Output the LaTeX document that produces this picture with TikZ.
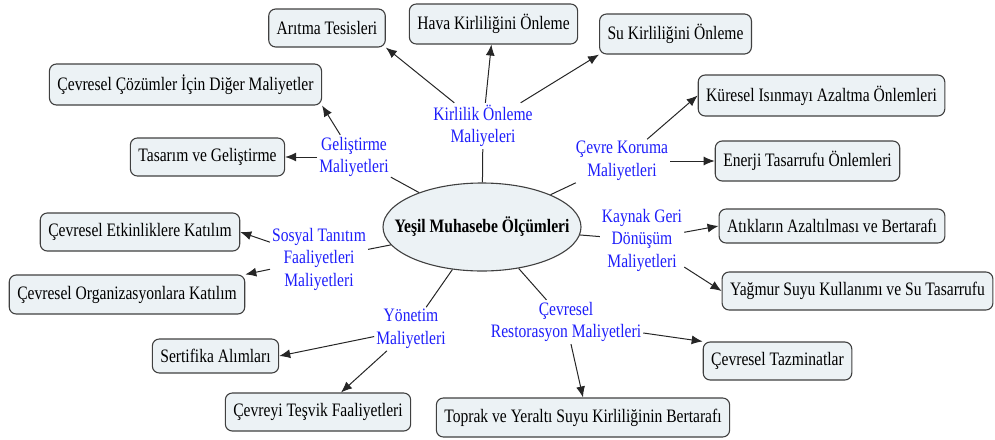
\documentclass[tikz,border=0pt]{standalone}
\usepackage{fontspec}
\setmainfont{Liberation Serif}[FakeStretch=0.82]
\usepackage{xcolor}
\usetikzlibrary{arrows.meta,shapes.geometric}
\definecolor{kutudolgu}{RGB}{236,242,245}
\definecolor{kutucizgi}{RGB}{64,64,64}
\definecolor{etiketmavi}{RGB}{30,30,250}
\newcommand{\yazi}{\fontsize{19}{22.5}\selectfont}

\begin{document}
\begin{tikzpicture}[x=1pt,y=-1pt,line join=round,>={Latex[length=11pt,width=9pt]},
        kutu/.style={draw=kutucizgi,line width=1.1pt,fill=kutudolgu,rounded corners=7pt,
                     inner xsep=8pt,minimum height=38pt,font=\yazi},
        etiket/.style={text=etiketmavi,align=center,inner sep=2pt,font=\yazi},
        hat/.style={draw=black!85,line width=1pt},
        ok/.style={hat,->}]
                \useasboundingbox (0,0) rectangle (995,439);
                \node[ellipse,draw=kutucizgi,line width=1.1pt,fill=kutudolgu,
                      minimum width=198pt,minimum height=88pt,inner xsep=-20pt,inner ysep=0pt,font=\yazi\bfseries]
                      (merkez) at (482,227) {Yeşil Muhasebe Ölçümleri};
                \node[kutu] (aritma)    at (327,28)    {Arıtma Tesisleri};
                \node[kutu,minimum height=40pt] (hava) at (493.5,24) {Hava Kirliliğini Önleme};
                \node[kutu,minimum height=40pt] (su)   at (675.5,34) {Su Kirliliğini Önleme};
                \node[kutu,minimum height=41pt] (cozum) at (185.5,84.5) {Çevresel Çözümler İçin Diğer Maliyetler};
                \node[kutu] (tasarim)   at (207.5,157) {Tasarım ve Geliştirme};
                \node[kutu,minimum height=41pt] (kuresel) at (821.5,95.5) {Küresel Isınmayı Azaltma Önlemleri};
                \node[kutu,minimum height=40pt] (enerji)  at (807.5,161) {Enerji Tasarrufu Önlemleri};
                \node[kutu] (etkinlik)  at (140,232)   {Çevresel Etkinliklere Katılım};
                \node[kutu,minimum height=39pt] (organ) at (127,294.5) {Çevresel Organizasyonlara Katılım};
                \node[kutu,minimum height=34pt] (sertifika) at (215.5,356) {Sertifika Alımları};
                \node[kutu] (tesvik)    at (318,412)   {Çevreyi Teşvik Faaliyetleri};
                \node[kutu,minimum height=39pt] (toprak) at (583,417.5) {Toprak ve Yeraltı Suyu Kirliliğinin Bertarafı};
                \node[kutu,minimum height=34pt] (atik) at (832,226) {Atıkların Azaltılması ve Bertarafı};
                \node[kutu] (yagmur)    at (857.5,291) {Yağmur Suyu Kullanımı ve Su Tasarrufu};
                \node[kutu] (tazminat)  at (777.5,361) {Çevresel Tazminatlar};
                \node[etiket] (kirlilik)   at (483,126) {Kirlilik Önleme\\Maliyeleri};
                \node[etiket] (gelistirme) at (354,157) {Geliştirme\\Maliyetleri};
                \node[etiket] (koruma)     at (622,161) {Çevre Koruma\\Maliyetleri};
                \node[etiket] (kaynak)     at (642,240) {Kaynak Geri\\Dönüşüm\\Maliyetleri};
                \node[etiket] (sosyal)     at (319,259) {Sosyal Tanıtım\\Faaliyetleri\\Maliyetleri};
                \node[etiket] (yonetim)    at (411,329) {Yönetim\\Maliyetleri};
                \node[etiket] (restor)     at (566,322) {Çevresel\\Restorasyon Maliyetleri};
                \draw[hat] (merkez) -- (kirlilik);
                \draw[hat] (merkez) -- (gelistirme);
                \draw[hat] (merkez) -- (koruma);
                \draw[hat] (merkez) -- (kaynak);
                \draw[hat] (merkez) -- (sosyal);
                \draw[hat] (merkez) -- (yonetim);
                \draw[hat] (merkez) -- (restor);
                \draw[ok] (kirlilik) -- (aritma.south east);
                \draw[ok] (kirlilik) -- (hava);
                \draw[ok] (kirlilik) -- (su.south west);
                \draw[ok] (gelistirme) -- (cozum.south east);
                \draw[ok] (gelistirme) -- (tasarim);
                \draw[ok] (koruma) -- (kuresel.west);
                \draw[ok] (koruma) -- (enerji);
                \draw[ok] (kaynak) -- (atik.west);
                \draw[ok] (kaynak) -- (yagmur.west);
                \draw[ok] (sosyal) -- (etkinlik.east);
                \draw[ok] (sosyal) -- (organ.north east);
                \draw[ok] (yonetim) -- (sertifika.east);
                \draw[ok] (yonetim) -- ([xshift=23pt]tesvik.north);
                \draw[ok] (restor) -- (tazminat.north west);
                \draw[ok] (restor) -- (toprak.north);
              \end{tikzpicture}
\end{document}
